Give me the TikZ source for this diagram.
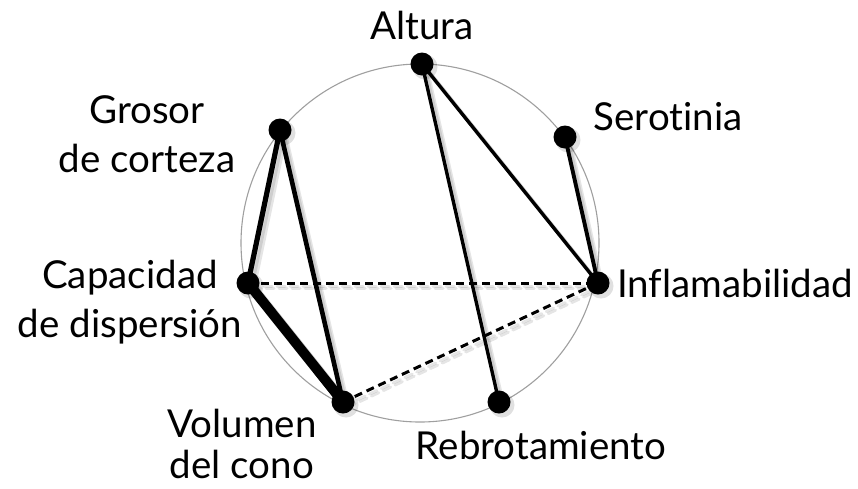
\documentclass[tikz,border=0pt]{standalone}
\usepackage{fontspec}
\setmainfont{Lato}[Ligatures={NoCommon,NoContextual}]
\newcommand\drawlinks[1]{%
  \draw[#1,line width=5.2pt] (G.center) -- (C.center);
  \draw[#1,line width=4.6pt] (G.center) -- (V.center);
  \draw[#1,line width=10pt] (C.center) -- (V.center);
  \draw[#1,line width=3.4pt] (A.center) -- (R.center);
  \draw[#1,line width=3.4pt] (A.center) -- (I.center);
  \draw[#1,line width=3.9pt] (S.center) -- (I.center);
  \draw[#1,line width=3pt,dash pattern=on 8pt off 5pt] (C.center) -- (I.center);
  \draw[#1,line width=3pt,dash pattern=on 8pt off 5pt] (V.center) -- (I.center);
}
\begin{document}
\begin{tikzpicture}[x=1pt,y=-1pt,
  dot/.style={circle,fill=black,inner sep=0pt,minimum size=23pt},
  lbl/.style={font=\fontsize{38.5}{49}\selectfont,inner sep=0pt,align=center},
  shade/.style={black,opacity=0.10,line cap=round},
]
\useasboundingbox (0,0) rectangle (858,488);
% guide ring
\draw[gray!75,line width=1.1pt] (420,243) circle[radius=179];
% trait positions on the ring
\coordinate (A) at (422,64);
\coordinate (G) at (280,130);
\coordinate (S) at (565,137);
\coordinate (C) at (248,283);
\coordinate (I) at (598,283);
\coordinate (V) at (343,402);
\coordinate (R) at (499,402);
% soft drop shadow of the links and dots
\begin{scope}[transform canvas={shift={(3,3)}}]
  \drawlinks{shade}
  \foreach \p in {A,G,S,C,I,V,R} \fill[black,opacity=0.12] (\p) circle[radius=12.5];
\end{scope}
\begin{scope}[transform canvas={shift={(5,5)}}]
  \drawlinks{shade}
\end{scope}
% links
\drawlinks{black}
% dots
\foreach \p in {A,G,S,C,I,V,R} \node[dot] (d\p) at (\p) {};
% labels (base anchor sits on the last line of each label)
\node[lbl,anchor=base] (tA) at (422,39) {Altura};
\node[lbl,anchor=base] (tS) at (668,130) {Serotinia};
\node[lbl,anchor=base] (tG) at (147,172) {Grosor\\de corteza};
\node[lbl,anchor=base] (tC) at (130,337) {Capacidad\\de dispersión};
\node[lbl,anchor=base] (tV) at (242,478) {Volumen\\[-8pt]del cono};
\node[lbl,anchor=base] (tR) at (541,459) {Rebrotamiento};
\node[lbl,anchor=base west] (tI) at (617,297) {Inflamabilidad};
\end{tikzpicture}
\end{document}
